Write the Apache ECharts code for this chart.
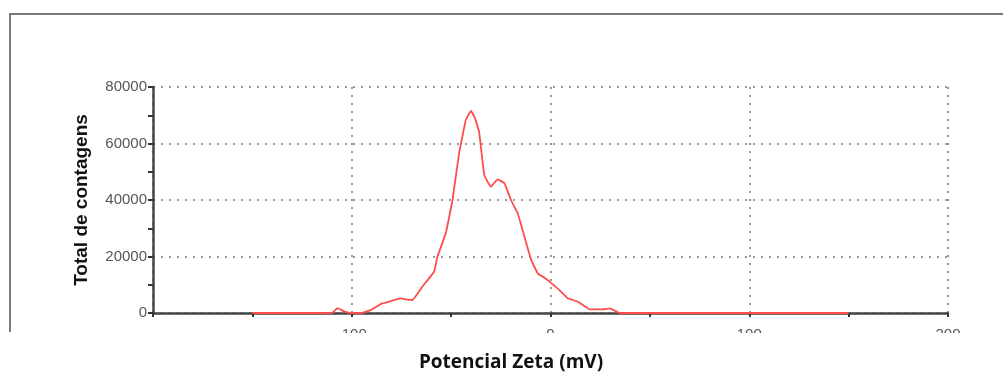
<!DOCTYPE html>
<html>
<head>
<meta charset="utf-8">
<script src="https://cdn.jsdelivr.net/npm/echarts@6/dist/echarts.min.js"></script>
<style>html,body{margin:0;padding:0;background:#fff}#c{width:1003px;height:374px}</style>
</head>
<body>
<div id="c"></div>
<script>
// Zeta potential (mV) and total counts
const zeta = [-150, -110, -107, -104, -100, -95, -90, -85, -80, -75.5, -72, -69.5, -64.5, -58.6, -56.9, -52.7, -49.3, -46, -42.6, -40, -38, -35.9, -33.3, -30, -26.6, -23.2, -19.9, -16.5, -13.1, -9.7, -6.4, -3, -0.5, 4.5, 8.7, 13.8, 19.7, 26.4, 29.8, 34.8, 150];
const counts = [0, 0, 1700, 600, 0, 0, 1200, 3300, 4300, 5200, 4700, 4600, 9300, 14600, 19900, 28200, 40000, 56500, 68300, 71500, 69000, 64000, 48800, 44700, 47300, 45900, 40000, 35300, 27000, 18800, 14000, 12500, 11100, 8100, 5200, 4000, 1300, 1300, 1650, 0, 0];
const xTicks = [-200, -100, 0, 100, 200];
const yTicks = [0, 20000, 40000, 60000, 80000];
const xTitle = 'Potencial Zeta (mV)';
const yTitle = 'Total de contagens';

const chart = echarts.init(document.getElementById('c'), null, {renderer: 'canvas'});
chart.setOption({
  animation: false,
  backgroundColor: '#fff',
  grid: {left: 153, right: 55, top: 87, bottom: 61, containLabel: false},
  xAxis: {
    type: 'value', min: xTicks[0], max: xTicks[xTicks.length - 1], interval: 100,
    axisLine: {show: true, onZero: false, lineStyle: {color: '#444', width: 2.5}},
    axisTick: {show: true, length: 4, inside: false, lineStyle: {color: '#333', width: 2}},
    minorTick: {show: true, splitNumber: 2, length: 4, lineStyle: {color: '#333', width: 2}},
    splitLine: {show: true, lineStyle: {color: '#999', type: [2, 6], width: 2}},
    axisLabel: {
      margin: 14, color: '#555', fontSize: 15, fontFamily: 'Liberation Sans',
      formatter: v => (v === xTicks[0] ? '' : String(v))
    }
  },
  yAxis: {
    type: 'value', min: yTicks[0], max: yTicks[yTicks.length - 1], interval: 20000,
    name: yTitle, nameLocation: 'middle', nameGap: 62,
    nameTextStyle: {color: '#111', fontSize: 19, fontWeight: 'bold', fontFamily: 'Liberation Sans'},
    axisLine: {show: true, onZero: false, lineStyle: {color: '#444', width: 2.5}},
    axisTick: {show: true, length: 5, lineStyle: {color: '#333', width: 2}},
    minorTick: {show: true, splitNumber: 2, length: 5, lineStyle: {color: '#333', width: 2}},
    splitLine: {show: true, lineStyle: {color: '#999', type: [2, 6], width: 2}},
    axisLabel: {margin: 6, color: '#555', fontSize: 15, fontFamily: 'Liberation Sans', formatter: v => String(v)}
  },
  series: [{
    type: 'line', data: zeta.map((x, i) => [x, counts[i]]),
    showSymbol: false, smooth: 0.1, z: 5,
    lineStyle: {color: '#ff4d4d', width: 1.8}
  }],
  graphic: [
    {type: 'rect', z: 100, shape: {x: 0, y: 333, width: 1003, height: 41}, style: {fill: '#fff'}},
    {type: 'line', z: 101, shape: {x1: 10, y1: 14, x2: 1003, y2: 14}, style: {stroke: '#7a7a7a', lineWidth: 2}},
    {type: 'line', z: 101, shape: {x1: 10, y1: 13, x2: 10, y2: 332}, style: {stroke: '#7a7a7a', lineWidth: 2}},
    {type: 'text', z: 101, x: 511, y: 363, style: {text: xTitle, fill: '#111', font: 'bold 19px "Open Sans"', textAlign: 'center', textVerticalAlign: 'middle'}}
  ]
});
</script>
</body>
</html>
